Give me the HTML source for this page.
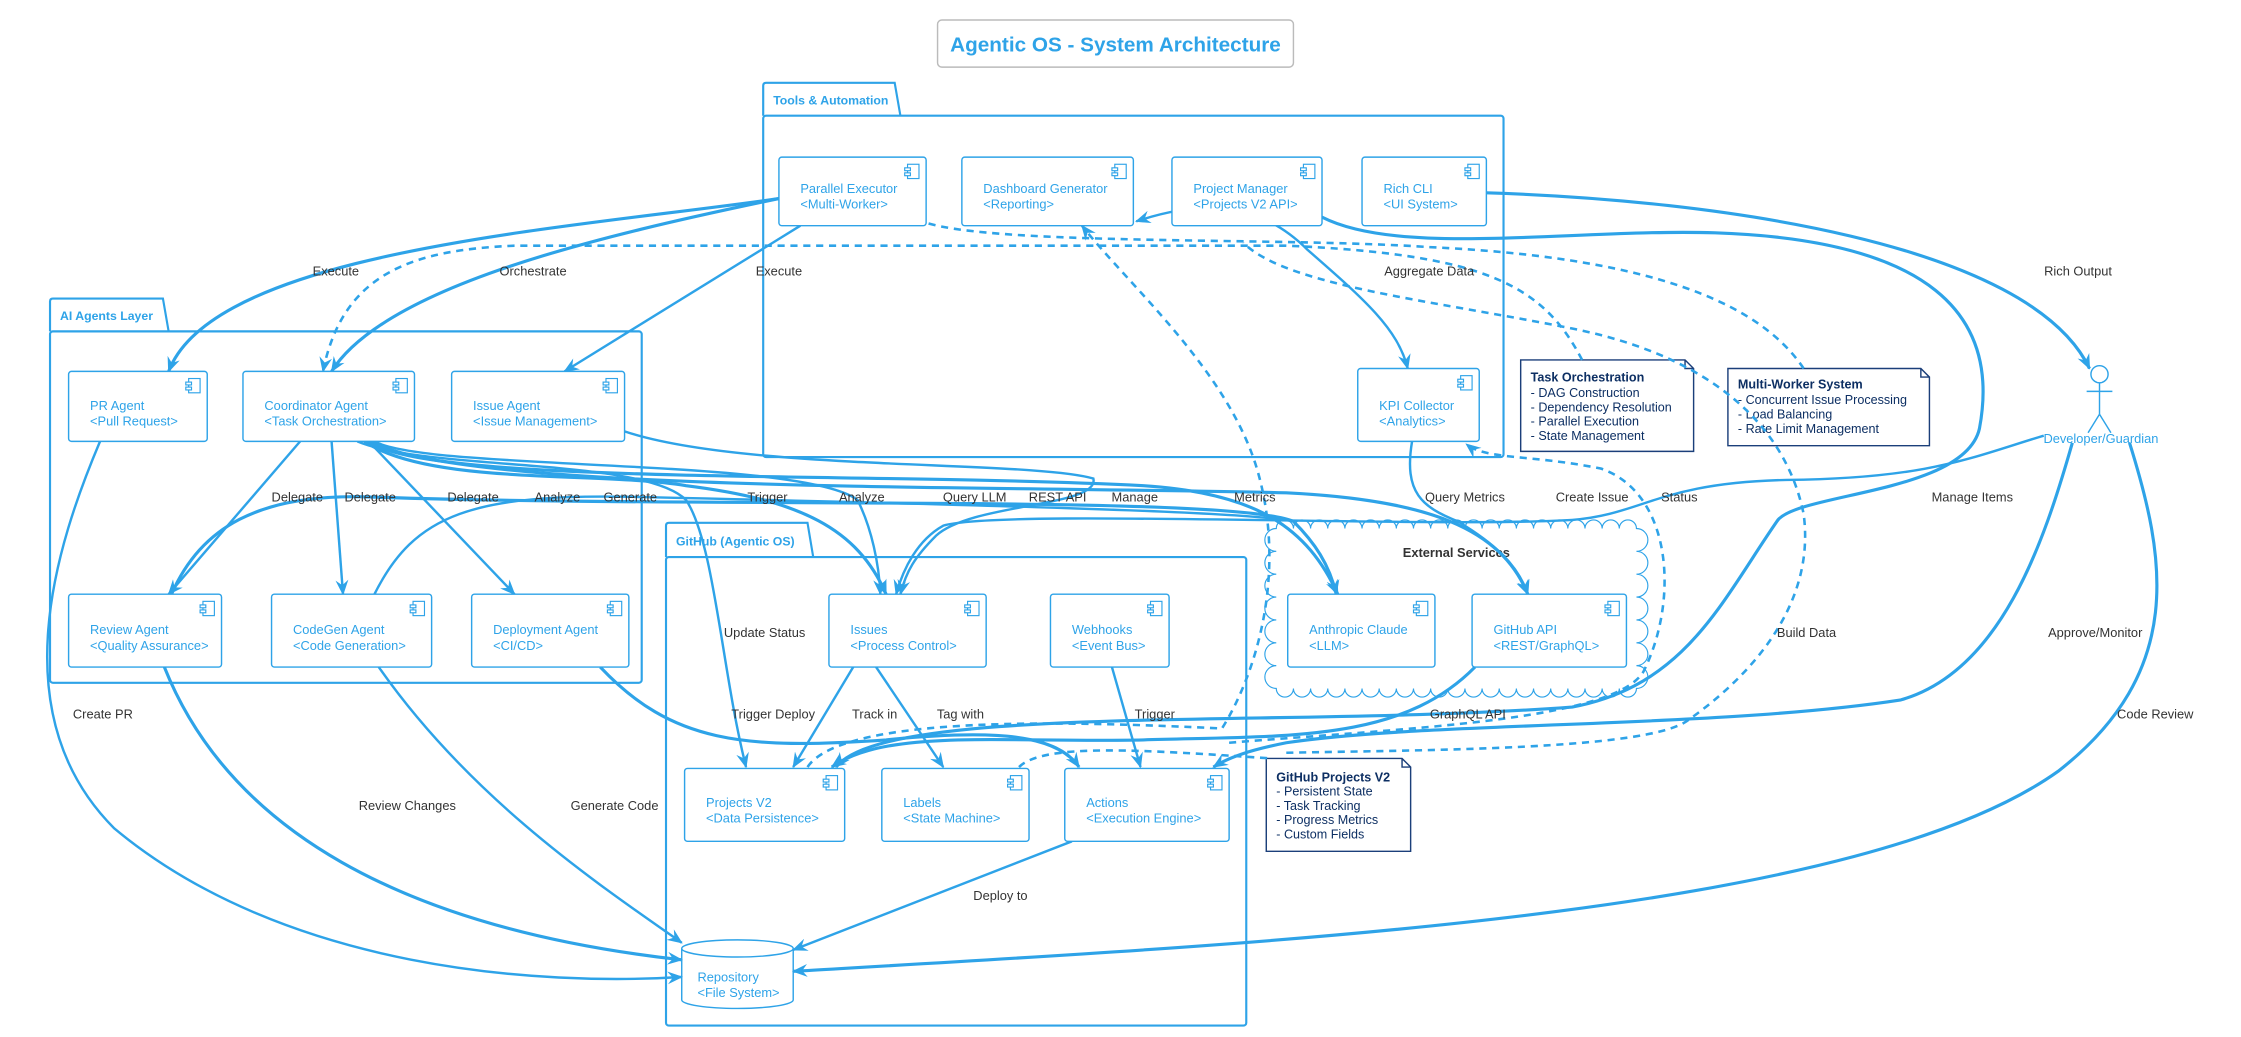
<!DOCTYPE html>
<html><head><meta charset="utf-8">
<style>
html,body{margin:0;padding:0;background:#fff;}
svg{display:block;}
.e{fill:none;stroke:#2ea3e8;stroke-width:1.7;}
.t{fill:none;stroke:#2ea3e8;stroke-width:2.2;}
.d{fill:none;stroke:#2ea3e8;stroke-width:1.8;stroke-dasharray:5,4;}
.box{fill:#fff;stroke:#2ea3e8;stroke-width:1;}
.pk{fill:none;stroke:#2ea3e8;stroke-width:1.5;}
.ct{font-family:"Liberation Sans",sans-serif;font-size:9px;fill:#2ea3e8;}
.lb{font-family:"Liberation Sans",sans-serif;font-size:9px;fill:#333;text-anchor:middle;}
.pt{font-family:"Liberation Sans",sans-serif;font-size:8.6px;font-weight:bold;fill:#2ea3e8;}
.nt{font-family:"Liberation Sans",sans-serif;font-size:8.8px;fill:#0d2f63;}
.ntb{font-family:"Liberation Sans",sans-serif;font-size:8.8px;fill:#0d2f63;font-weight:bold;}
.note{fill:#fff;stroke:#1b3f7a;stroke-width:1;}
</style></head><body>
<svg width="2241" height="1037" viewBox="0 0 1568 726" preserveAspectRatio="none" xmlns="http://www.w3.org/2000/svg" xmlns:xlink="http://www.w3.org/1999/xlink">
<defs>
<marker id="a" viewBox="0 0 12 10" refX="11" refY="5" markerWidth="11" markerHeight="9" orient="auto" markerUnits="userSpaceOnUse">
<path d="M0,0 L12,5 L0,10 L4,5z" fill="#2ea3e8"/></marker>
<marker id="s" viewBox="0 0 12 10" refX="1" refY="5" markerWidth="11" markerHeight="9" orient="auto" markerUnits="userSpaceOnUse">
<path d="M12,0 L0,5 L12,10 L8,5z" fill="#2ea3e8"/></marker>
<g id="ic" fill="#fff" stroke="#2ea3e8" stroke-width="0.8">
<rect x="-13" y="5" width="8" height="10"/><rect x="-15" y="7.5" width="4" height="2"/><rect x="-15" y="11" width="4" height="2"/>
</g>
</defs>

<!-- Title -->
<rect x="656" y="14" width="249" height="33" rx="3" fill="#fff" stroke="#bbb" stroke-width="1"/>
<text x="780.5" y="36" text-anchor="middle" font-family="Liberation Sans,sans-serif" font-size="14.5" font-weight="bold" fill="#2ea3e8">Agentic OS - System Architecture</text>

<!-- Packages -->
<path class="pk" d="M534,81 L534,60 Q534,58 536,58 L626,58 L630,81"/>
<rect class="pk" x="534" y="81" width="518" height="239" rx="2"/>
<text class="pt" x="541" y="73">Tools &amp; Automation</text>

<path class="pk" d="M35,232 L35,211 Q35,209 37,209 L114,209 L118,232"/>
<rect class="pk" x="35" y="232" width="414" height="246" rx="2"/>
<text class="pt" x="42" y="224">AI Agents Layer</text>

<path class="pk" d="M466,390 L466,368 Q466,366 468,366 L565,366 L569,390"/>
<rect class="pk" x="466" y="390" width="406" height="328" rx="2"/>
<text class="pt" x="473" y="382">GitHub (Agentic OS)</text>

<!-- Cloud -->
<path fill="#fff" stroke="#2ea3e8" stroke-width="0.8" d="M893,370
a6,6 0 0 1 12,0 a6,6 0 0 1 12,0 a6,6 0 0 1 12,0 a6,6 0 0 1 12,0 a6,6 0 0 1 12,0 a6,6 0 0 1 12,0 a6,6 0 0 1 12,0
a6,6 0 0 1 12,0 a6,6 0 0 1 12,0 a6,6 0 0 1 12,0 a6,6 0 0 1 12,0 a6,6 0 0 1 12,0 a6,6 0 0 1 12,0 a6,6 0 0 1 12,0
a6,6 0 0 1 12,0 a6,6 0 0 1 12,0 a6,6 0 0 1 12,0 a6,6 0 0 1 12,0 a6,6 0 0 1 12,0 a6,6 0 0 1 12,0 a6,6 0 0 1 12,0
a8,8 0 0 1 0,16 a8,8 0 0 1 0,16 a8,8 0 0 1 0,16 a8,8 0 0 1 0,16 a8,8 0 0 1 0,16 a8,8 0 0 1 0,16 a8,8 0 0 1 0,16
a6,6 0 0 1 -12,0 a6,6 0 0 1 -12,0 a6,6 0 0 1 -12,0 a6,6 0 0 1 -12,0 a6,6 0 0 1 -12,0 a6,6 0 0 1 -12,0 a6,6 0 0 1 -12,0
a6,6 0 0 1 -12,0 a6,6 0 0 1 -12,0 a6,6 0 0 1 -12,0 a6,6 0 0 1 -12,0 a6,6 0 0 1 -12,0 a6,6 0 0 1 -12,0 a6,6 0 0 1 -12,0
a6,6 0 0 1 -12,0 a6,6 0 0 1 -12,0 a6,6 0 0 1 -12,0 a6,6 0 0 1 -12,0 a6,6 0 0 1 -12,0 a6,6 0 0 1 -12,0 a6,6 0 0 1 -12,0
a8,8 0 0 1 0,-16 a8,8 0 0 1 0,-16 a8,8 0 0 1 0,-16 a8,8 0 0 1 0,-16 a8,8 0 0 1 0,-16 a8,8 0 0 1 0,-16 a8,8 0 0 1 0,-16 Z"/>
<text x="1019" y="390" text-anchor="middle" font-family="Liberation Sans,sans-serif" font-size="9" font-weight="bold" fill="#333">External Services</text>

<!-- Repository -->
<path class="box" d="M477,664 A39,6 0 0 1 555,664 L555,700 A39,6 0 0 1 477,700 Z"/>
<path class="box" d="M477,664 A39,6 0 0 0 555,664" fill="none"/>
<text class="ct" x="488" y="687">Repository</text>
<text class="ct" x="488" y="698">&lt;File System&gt;</text>

<!-- Actor -->
<g stroke="#2ea3e8" stroke-width="1" fill="none">
<circle cx="1469" cy="262" r="6" fill="#fff"/>
<line x1="1469" y1="268" x2="1469" y2="290"/>
<line x1="1460" y1="274" x2="1478" y2="274"/>
<line x1="1469" y1="290" x2="1461" y2="303"/>
<line x1="1469" y1="290" x2="1477" y2="303"/>
</g>
<text x="1470" y="310" text-anchor="middle" font-family="Liberation Sans,sans-serif" font-size="9" fill="#2ea3e8">Developer/Guardian</text>

<!-- Notes -->
<path class="note" d="M1064,252 L1179,252 L1185,258 L1185,316 L1064,316 Z M1179,252 L1179,258 L1185,258"/>
<text class="ntb" x="1071" y="267">Task Orchestration</text>
<text class="nt" x="1071" y="278">- DAG Construction</text>
<text class="nt" x="1071" y="288">- Dependency Resolution</text>
<text class="nt" x="1071" y="298">- Parallel Execution</text>
<text class="nt" x="1071" y="308">- State Management</text>

<path class="note" d="M1209,258 L1344,258 L1350,264 L1350,312 L1209,312 Z M1344,258 L1344,264 L1350,264"/>
<text class="ntb" x="1216" y="272">Multi-Worker System</text>
<text class="nt" x="1216" y="283">- Concurrent Issue Processing</text>
<text class="nt" x="1216" y="293">- Load Balancing</text>
<text class="nt" x="1216" y="303">- Rate Limit Management</text>

<path class="note" d="M886,531 L981,531 L987,537 L987,596 L886,596 Z M981,531 L981,537 L987,537"/>
<text class="ntb" x="893" y="547">GitHub Projects V2</text>
<text class="nt" x="893" y="557">- Persistent State</text>
<text class="nt" x="893" y="567">- Task Tracking</text>
<text class="nt" x="893" y="577">- Progress Metrics</text>
<text class="nt" x="893" y="587">- Custom Fields</text>

<!-- Edges -->
<g>
<path class="t" marker-end="url(#a)" d="M545,139 C400,160 150,175 118,260"/>
<path class="t" marker-end="url(#a)" d="M545,139 C420,165 270,200 232,260"/>
<path class="e" marker-end="url(#a)" d="M560,158 L395,260"/>
<path class="d" marker-end="url(#a)" d="M1107,252 C1080,200 1040,178 900,172 L360,172 C290,175 240,190 226,260"/>
<path class="d" d="M1262,258 C1230,210 1150,180 1000,173 C900,166 700,172 648,156"/>
<path class="t" marker-end="url(#a)" d="M1040,135 C1200,140 1420,170 1462,258"/>
<path class="t" marker-end="url(#a)" d="M925,152 C980,180 1100,160 1200,163 C1350,168 1400,220 1385,300 C1375,345 1260,345 1244,364 C1205,420 1180,480 1100,495 C900,510 620,492 585,537"/>
<path class="e" marker-start="url(#s)" marker-end="url(#a)" d="M795,155 C840,140 880,140 915,175 C955,210 978,230 985,258"/>
<path class="d" marker-end="url(#a)" d="M565,537 C590,500 750,505 855,510 C880,470 900,400 880,330 C860,260 790,200 757,158"/>
<path class="d" d="M713,537 C730,520 800,525 890,531"/>
<path class="d" d="M900,527 C1000,525 1150,525 1180,505 C1230,470 1270,420 1262,360 C1250,300 1200,250 1100,230 C1000,210 900,200 870,170"/>
<path class="d" marker-end="url(#a)" d="M860,520 C980,510 1130,505 1150,470 C1175,420 1170,345 1120,328 C1070,318 1040,322 1026,311"/>
<path class="e" marker-end="url(#a)" d="M988,309 C982,345 995,355 1020,365 C1045,380 1062,395 1069,416"/>
<path class="e" marker-end="url(#a)" d="M1430,305 C1380,320 1350,335 1250,336 C1160,338 1150,360 1100,364 C1000,370 700,356 660,368 C642,378 632,398 627,416"/>
<path class="t" marker-end="url(#a)" d="M1450,310 C1430,380 1400,470 1330,490 C1200,510 1000,505 900,520 C875,525 860,530 849,537"/>
<path class="t" marker-end="url(#a)" d="M1490,310 C1515,390 1530,470 1440,540 C1300,640 900,660 555,680"/>
<path class="e" marker-end="url(#a)" d="M70,309 C40,380 0,500 80,580 C200,680 380,690 477,684"/>
<path class="t" marker-end="url(#a)" d="M115,467 C160,580 280,650 477,672"/>
<path class="e" marker-end="url(#a)" d="M265,467 C330,560 420,620 477,660"/>
<path class="t" marker-end="url(#a)" d="M420,467 C470,520 520,525 620,518 C700,510 740,515 755,537"/>
<path class="e" marker-end="url(#a)" d="M597,467 L555,537"/>
<path class="e" marker-end="url(#a)" d="M613,467 L660,537"/>
<path class="e" marker-end="url(#a)" d="M778,467 L798,537"/>
<path class="e" marker-end="url(#a)" d="M750,589 L555,665"/>
<path class="t" marker-end="url(#a)" d="M1032,467 C980,520 900,515 800,518 C700,520 620,510 582,537"/>
<path class="e" marker-end="url(#a)" d="M210,309 L118,416"/>
<path class="e" marker-end="url(#a)" d="M232,309 L240,416"/>
<path class="e" marker-end="url(#a)" d="M258,309 L360,416"/>
<path class="t" marker-end="url(#a)" d="M120,416 C140,370 180,345 260,348 C500,356 860,346 905,365 C920,380 930,395 935,416"/>
<path class="e" d="M262,416 C290,360 330,345 450,348 C800,356 880,360 905,365"/>
<path class="t" marker-end="url(#a)" d="M255,309 C300,340 420,330 480,340 C560,350 600,370 620,416"/>
<path class="e" marker-end="url(#a)" d="M250,309 C300,330 450,320 480,350 C500,380 505,470 522,537"/>
<path class="t" marker-end="url(#a)" d="M258,309 C300,340 600,330 800,340 C880,345 915,370 936,416"/>
<path class="t" marker-end="url(#a)" d="M260,309 C320,345 700,340 900,345 C1000,350 1050,370 1069,416"/>
<path class="e" marker-end="url(#a)" d="M437,302 C520,330 720,322 765,335 C770,355 680,352 655,375 C640,390 634,400 630,416"/>
<path class="e" marker-end="url(#a)" d="M262,309 C300,330 560,320 600,350 C610,370 615,395 616,416"/>
</g>

<!-- Labels -->
<g>
<text class="lb" x="235" y="193">Execute</text>
<text class="lb" x="373" y="193">Orchestrate</text>
<text class="lb" x="545" y="193">Execute</text>
<text class="lb" x="1000" y="193">Aggregate Data</text>
<text class="lb" x="1454" y="193">Rich Output</text>
<text class="lb" x="208" y="351">Delegate</text>
<text class="lb" x="259" y="351">Delegate</text>
<text class="lb" x="331" y="351">Delegate</text>
<text class="lb" x="390" y="351">Analyze</text>
<text class="lb" x="441" y="351">Generate</text>
<text class="lb" x="537" y="351">Trigger</text>
<text class="lb" x="603" y="351">Analyze</text>
<text class="lb" x="682" y="351">Query LLM</text>
<text class="lb" x="740" y="351">REST API</text>
<text class="lb" x="794" y="351">Manage</text>
<text class="lb" x="878" y="351">Metrics</text>
<text class="lb" x="1025" y="351">Query Metrics</text>
<text class="lb" x="1114" y="351">Create Issue</text>
<text class="lb" x="1175" y="351">Status</text>
<text class="lb" x="1380" y="351">Manage Items</text>
<text class="lb" x="535" y="446">Update Status</text>
<text class="lb" x="1264" y="446">Build Data</text>
<text class="lb" x="1466" y="446">Approve/Monitor</text>
<text class="lb" x="72" y="503">Create PR</text>
<text class="lb" x="541" y="503">Trigger Deploy</text>
<text class="lb" x="612" y="503">Track in</text>
<text class="lb" x="672" y="503">Tag with</text>
<text class="lb" x="808" y="503">Trigger</text>
<text class="lb" x="1027" y="503">GraphQL API</text>
<text class="lb" x="1508" y="503">Code Review</text>
<text class="lb" x="285" y="567">Review Changes</text>
<text class="lb" x="430" y="567">Generate Code</text>
<text class="lb" x="700" y="630">Deploy to</text>
</g>

<!-- Components -->
<g>
<rect class="box" x="545" y="110" width="103" height="48" rx="2"/><text class="ct" x="560" y="135">Parallel Executor</text><text class="ct" x="560" y="146">&lt;Multi-Worker&gt;</text>
<rect class="box" x="673" y="110" width="120" height="48" rx="2"/><text class="ct" x="688" y="135">Dashboard Generator</text><text class="ct" x="688" y="146">&lt;Reporting&gt;</text>
<rect class="box" x="820" y="110" width="105" height="48" rx="2"/><text class="ct" x="835" y="135">Project Manager</text><text class="ct" x="835" y="146">&lt;Projects V2 API&gt;</text>
<rect class="box" x="953" y="110" width="87" height="48" rx="2"/><text class="ct" x="968" y="135">Rich CLI</text><text class="ct" x="968" y="146">&lt;UI System&gt;</text>
<rect class="box" x="950" y="258" width="85" height="51" rx="2"/><text class="ct" x="965" y="287">KPI Collector</text><text class="ct" x="965" y="298">&lt;Analytics&gt;</text>
<rect class="box" x="48" y="260" width="97" height="49" rx="2"/><text class="ct" x="63" y="287">PR Agent</text><text class="ct" x="63" y="298">&lt;Pull Request&gt;</text>
<rect class="box" x="170" y="260" width="120" height="49" rx="2"/><text class="ct" x="185" y="287">Coordinator Agent</text><text class="ct" x="185" y="298">&lt;Task Orchestration&gt;</text>
<rect class="box" x="316" y="260" width="121" height="49" rx="2"/><text class="ct" x="331" y="287">Issue Agent</text><text class="ct" x="331" y="298">&lt;Issue Management&gt;</text>
<rect class="box" x="48" y="416" width="107" height="51" rx="2"/><text class="ct" x="63" y="444">Review Agent</text><text class="ct" x="63" y="455">&lt;Quality Assurance&gt;</text>
<rect class="box" x="190" y="416" width="112" height="51" rx="2"/><text class="ct" x="205" y="444">CodeGen Agent</text><text class="ct" x="205" y="455">&lt;Code Generation&gt;</text>
<rect class="box" x="330" y="416" width="110" height="51" rx="2"/><text class="ct" x="345" y="444">Deployment Agent</text><text class="ct" x="345" y="455">&lt;CI/CD&gt;</text>
<rect class="box" x="580" y="416" width="110" height="51" rx="2"/><text class="ct" x="595" y="444">Issues</text><text class="ct" x="595" y="455">&lt;Process Control&gt;</text>
<rect class="box" x="735" y="416" width="83" height="51" rx="2"/><text class="ct" x="750" y="444">Webhooks</text><text class="ct" x="750" y="455">&lt;Event Bus&gt;</text>
<rect class="box" x="901" y="416" width="103" height="51" rx="2"/><text class="ct" x="916" y="444">Anthropic Claude</text><text class="ct" x="916" y="455">&lt;LLM&gt;</text>
<rect class="box" x="1030" y="416" width="108" height="51" rx="2"/><text class="ct" x="1045" y="444">GitHub API</text><text class="ct" x="1045" y="455">&lt;REST/GraphQL&gt;</text>
<rect class="box" x="479" y="538" width="112" height="51" rx="2"/><text class="ct" x="494" y="565">Projects V2</text><text class="ct" x="494" y="576">&lt;Data Persistence&gt;</text>
<rect class="box" x="617" y="538" width="103" height="51" rx="2"/><text class="ct" x="632" y="565">Labels</text><text class="ct" x="632" y="576">&lt;State Machine&gt;</text>
<rect class="box" x="745" y="538" width="115" height="51" rx="2"/><text class="ct" x="760" y="565">Actions</text><text class="ct" x="760" y="576">&lt;Execution Engine&gt;</text>
</g>
<g>
<use href="#ic" xlink:href="#ic" x="648" y="110"/>
<use href="#ic" xlink:href="#ic" x="793" y="110"/>
<use href="#ic" xlink:href="#ic" x="925" y="110"/>
<use href="#ic" xlink:href="#ic" x="1040" y="110"/>
<use href="#ic" xlink:href="#ic" x="1035" y="258"/>
<use href="#ic" xlink:href="#ic" x="145" y="260"/>
<use href="#ic" xlink:href="#ic" x="290" y="260"/>
<use href="#ic" xlink:href="#ic" x="437" y="260"/>
<use href="#ic" xlink:href="#ic" x="155" y="416"/>
<use href="#ic" xlink:href="#ic" x="302" y="416"/>
<use href="#ic" xlink:href="#ic" x="440" y="416"/>
<use href="#ic" xlink:href="#ic" x="690" y="416"/>
<use href="#ic" xlink:href="#ic" x="818" y="416"/>
<use href="#ic" xlink:href="#ic" x="1004" y="416"/>
<use href="#ic" xlink:href="#ic" x="1138" y="416"/>
<use href="#ic" xlink:href="#ic" x="591" y="538"/>
<use href="#ic" xlink:href="#ic" x="720" y="538"/>
<use href="#ic" xlink:href="#ic" x="860" y="538"/>
</g>
</svg>
</body></html>
